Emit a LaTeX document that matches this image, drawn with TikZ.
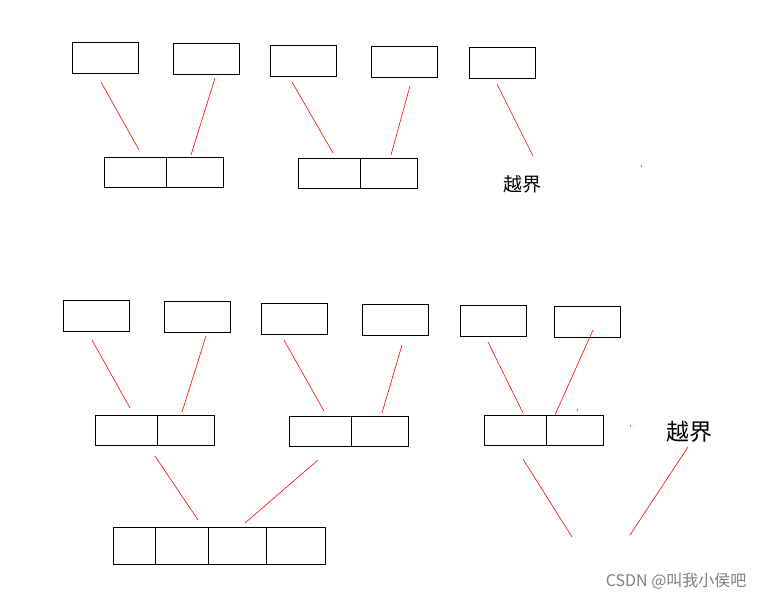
\documentclass[tikz,border=0pt]{standalone}
\usepackage{fontspec}
\newfontfamily\cjk{Noto Sans CJK SC}
\begin{document}
\begin{tikzpicture}[x=1pt,y=-1pt,
 bx/.style={draw,line width=0.8pt},
 rl/.style={draw=red,line width=0.6pt}]
\useasboundingbox (0,0) rectangle (763,601);
\fill[white] (0,0) rectangle (763,601);
% top row
\draw[bx] (72,42) rectangle (138,73);
\draw[bx] (173,43) rectangle (239,74);
\draw[bx] (270,45) rectangle (336,76);
\draw[bx] (371,46) rectangle (437,77);
\draw[bx] (469,47) rectangle (535,78);
\draw[bx] (104,157) rectangle (223,187); \draw[bx] (166,157)--(166,187);
\draw[bx] (298,158) rectangle (417,188); \draw[bx] (360,158)--(360,188);
\draw[rl] (101,82)--(139,150);
\draw[rl] (215,78)--(191,155);
\draw[rl] (292,82)--(333,153);
\draw[rl] (410,86)--(391,155);
\draw[rl] (497,84)--(533,156);
\node (t1) at (522,184) {\cjk\fontsize{19}{21}\selectfont 越界};
% bottom
\draw[bx] (63,300) rectangle (129,331);
\draw[bx] (164,301) rectangle (230,332);
\draw[bx] (261,303) rectangle (327,334);
\draw[bx] (362,304) rectangle (428,335);
\draw[bx] (460,305) rectangle (526,336);
\draw[bx] (554,306) rectangle (620,337);
\draw[bx] (95,415) rectangle (214,445); \draw[bx] (157,415)--(157,445);
\draw[bx] (289,416) rectangle (408,446); \draw[bx] (351,416)--(351,446);
\draw[bx] (484,415) rectangle (603,445); \draw[bx] (546,415)--(546,445);
\draw[bx] (113,527) rectangle (325,564);
\draw[bx] (155,527)--(155,564); \draw[bx] (208,527)--(208,564); \draw[bx] (266,527)--(266,564);
\draw[rl] (92,340)--(130,408);
\draw[rl] (206,336)--(182,412);
\draw[rl] (284,340)--(324,411);
\draw[rl] (402,345)--(382,413);
\draw[rl] (488,342)--(523,413);
\draw[rl] (593,330)--(555,415);
\draw[rl] (155,456)--(198,520);
\draw[rl] (318,460)--(245,523);
\draw[rl] (523,459)--(572,537);
\draw[rl] (688,447)--(630,535);
\draw[rl] (641,165)--(642,167);
\draw[rl] (578,409)--(577,411);
\draw[rl] (631,425)--(630,427);
\node (t2) at (689,432) {\cjk\fontsize{23}{25}\selectfont 越界};
\node[text=gray,anchor=east] (wm) at (750,581) {\cjk\fontsize{16}{18}\selectfont CSDN @叫我小侯吧};
\end{tikzpicture}
\end{document}
